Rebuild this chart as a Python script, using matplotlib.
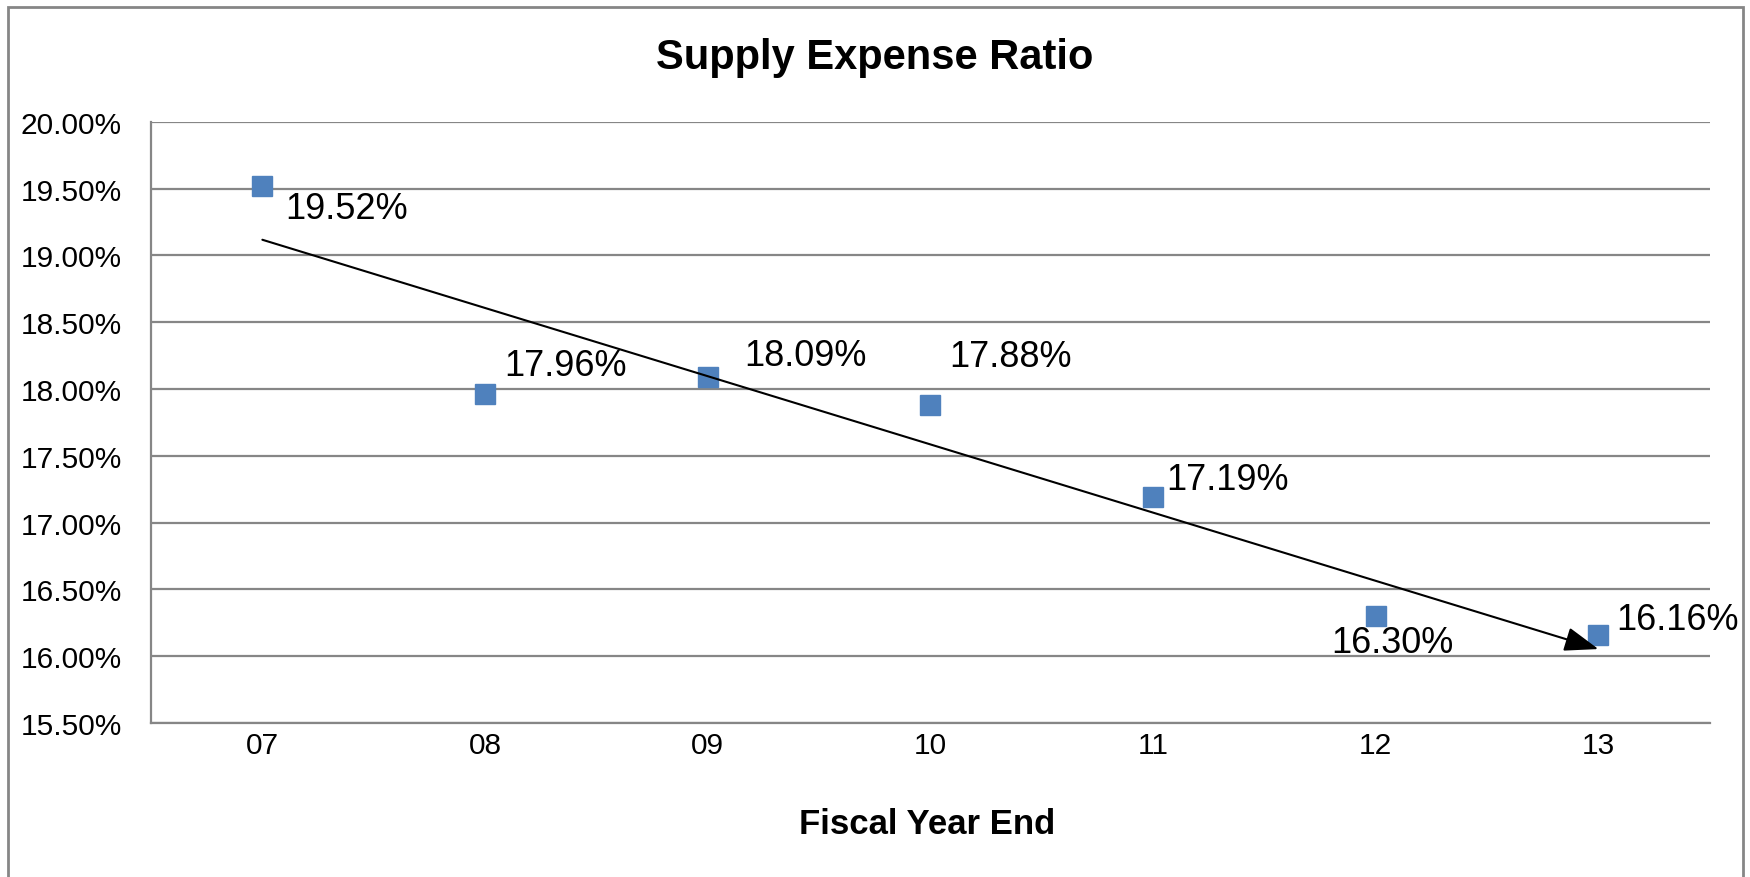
import numpy as np
import matplotlib
matplotlib.use("Agg")
import matplotlib.pyplot as plt
from matplotlib.patches import Rectangle

plt.rcParams['font.family'] = ['Liberation Sans', 'DejaVu Sans']

# Data
years = ['07', '08', '09', '10', '11', '12', '13']
ratios = [19.52, 17.96, 18.09, 17.88, 17.19, 16.30, 16.16]

# label offsets in pixels (left edge, vertical centre) relative to each marker
label_offsets = [(23, -22), (19, 29), (37, 22), (19, 49), (13, 18), (-44, -26), (18, 15)]

grid_color = '#868686'
marker_color = '#4F81BD'

fig = plt.figure(figsize=(17.5, 8.78), dpi=100)
ax = fig.add_axes([0.0863, 0.1754, 0.8907, 0.6846])

x = np.arange(len(years))
ax.plot(x, ratios, linestyle='none', marker='s', markersize=14.4,
        color=marker_color, zorder=3)

# linear trend shown as an arrow
slope, intercept = np.polyfit(x, ratios, 1)
ax.annotate('', xy=(x[-1], slope * x[-1] + intercept),
            xytext=(x[0], slope * x[0] + intercept),
            arrowprops=dict(arrowstyle='-|>,head_length=0.7,head_width=0.25',
                            color='black', lw=1.5, mutation_scale=30,
                            shrinkA=0, shrinkB=0),
            zorder=4)

for xi, val, (dx, dy) in zip(x, ratios, label_offsets):
    ax.annotate(f'{val:.2f}%', (xi, val), xytext=(dx, dy),
                textcoords='offset pixels', ha='left', va='center',
                fontsize=26, zorder=5)

ax.set_xlim(-0.5, len(years) - 0.5)
ax.set_ylim(15.5, 20.0)
ax.set_yticks(np.arange(15.5, 20.01, 0.5))
ax.set_yticklabels([f'{v:.2f}%' for v in np.arange(15.5, 20.01, 0.5)])
ax.set_xticks(x)
ax.set_xticklabels(years)
ax.tick_params(axis='both', length=0, labelsize=21.5)
ax.tick_params(axis='y', pad=21)
ax.tick_params(axis='x', pad=6)

ax.grid(axis='y', color=grid_color, linewidth=1.6)
ax.set_axisbelow(True)
for side in ['top', 'right']:
    ax.spines[side].set_visible(False)
for side in ['left', 'bottom']:
    ax.spines[side].set_color(grid_color)
    ax.spines[side].set_linewidth(1.6)

fig.text(0.5, 0.934, 'Supply Expense Ratio', ha='center', va='center',
         fontsize=30, fontweight='bold')
fig.text(0.53, 0.0615, 'Fiscal Year End', ha='center', va='center',
         fontsize=25, fontweight='bold')

# outer chart border (bottom edge cut off)
fig.patches.append(Rectangle((8 / 1750, -0.05), 1735 / 1750, 0.05 + 1 - 8 / 878,
                             transform=fig.transFigure, fill=False,
                             edgecolor=grid_color, linewidth=2))

fig.savefig('out.png', dpi=100)
